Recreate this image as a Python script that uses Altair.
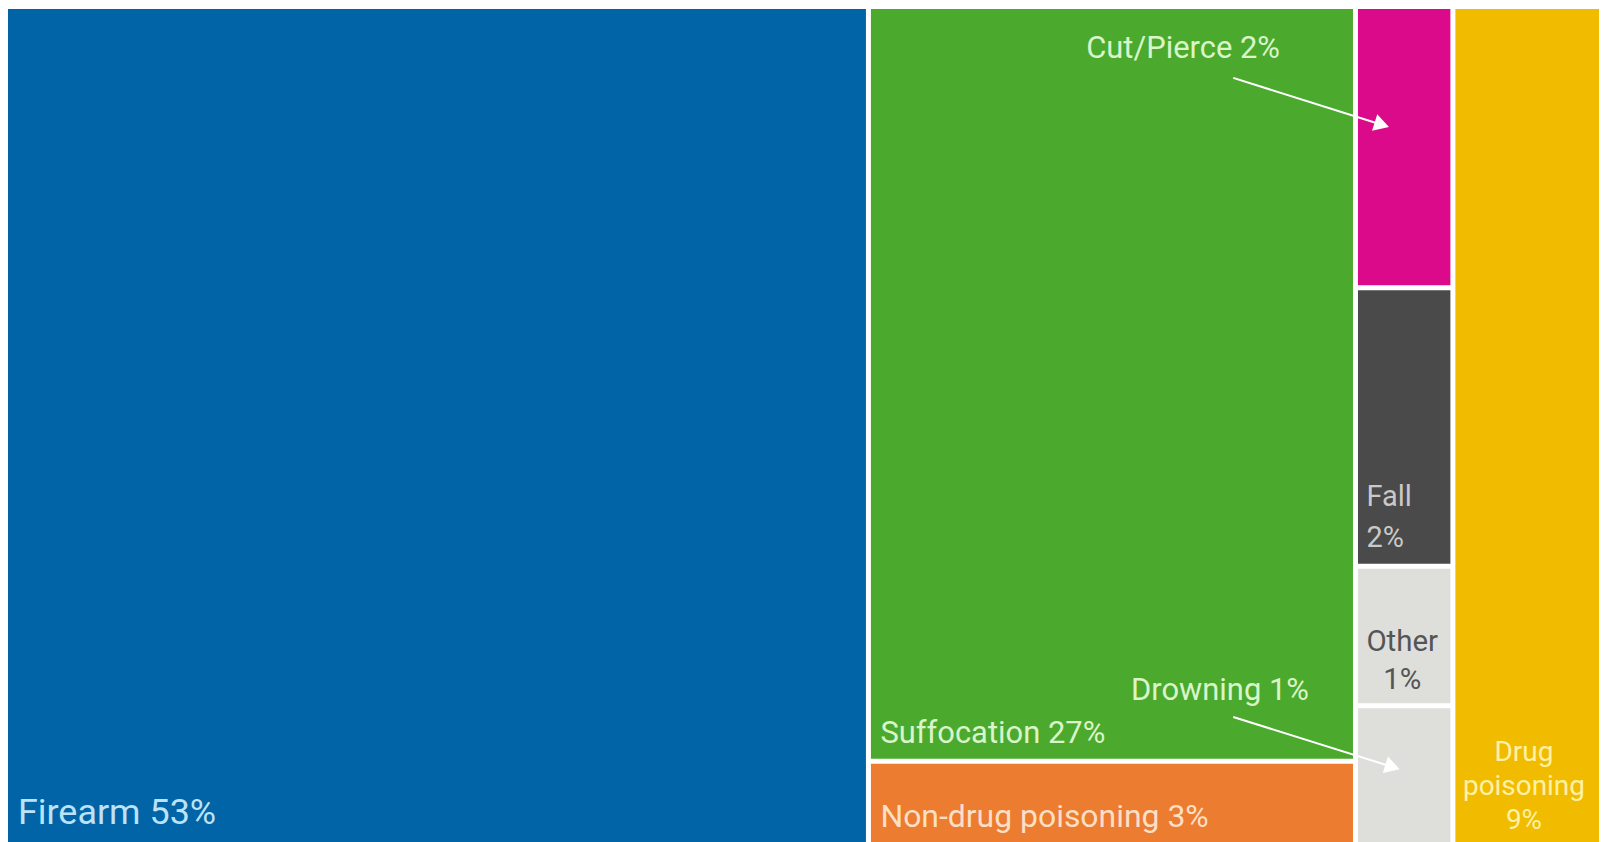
import math
import altair as alt
import pandas as pd

# ---- data -------------------------------------------------------------
categories = ["Firearm", "Suffocation", "Non-drug poisoning", "Cut/Pierce",
              "Fall", "Other", "Drowning", "Drug poisoning"]
percents = [53, 27, 3, 2, 2, 1, 1, 9]
column_of = [0, 1, 1, 2, 2, 2, 2, 3]
fill_colors = ["#0064A6", "#4BAA2E", "#EB7C30", "#DA0A8A",
               "#4A4A4A", "#DEDEDB", "#DEDEDB", "#F1BC00"]
label_texts = ["Firearm 53%", "Suffocation 27%", "Non-drug poisoning 3%",
               "Cut/Pierce 2%", "Fall\n2%", "Other\n1%", "Drowning 1%",
               "Drug\npoisoning\n9%"]
label_colors = ["#BCE2F7", "#D9F5C9", "#FDDFC6", "#D9F5C9",
                "#C9C9C9", "#555555", "#D9F5C9", "#FFF1A6"]

W, H = 1595, 838
GAP = 5  # white border width, px

# ---- treemap layout (slice columns, dice rows) --------------------------
total = sum(percents)
gx = GAP / W * total
gy = GAP / H
ncol = max(column_of) + 1
col_sum = [sum(p for p, c in zip(percents, column_of) if c == k) for k in range(ncol)]
col_x0 = [sum(col_sum[:k]) for k in range(ncol)]
rows = []
used = [0.0] * ncol
for cat, p, c, col in zip(categories, percents, column_of, fill_colors):
    y0 = used[c] / col_sum[c]
    used[c] += p
    y1 = used[c] / col_sum[c]
    x0, x1 = col_x0[c], col_x0[c] + col_sum[c]
    rows.append(dict(cat=cat, x0=x0, x1=x1, y0=y0, y1=y1, color=col,
                     vx0=x0 + (gx / 2 if x0 > 0 else 0),
                     vx1=x1 - (gx / 2 if x1 < total else 0),
                     vy0=y0 + (gy / 2 if y0 > 0 else 0),
                     vy1=y1 - (gy / 2 if y1 < 1 else 0)))
df = pd.DataFrame(rows)
R = {r["cat"]: r for r in rows}

xs = alt.Scale(domain=[0, total], nice=False, zero=False)
ys = alt.Scale(domain=[0, 1], nice=False, zero=False, reverse=True)

rects = alt.Chart(df).mark_rect().encode(
    x=alt.X("vx0:Q", scale=xs, axis=None),
    x2="vx1:Q",
    y=alt.Y("vy0:Q", scale=ys, axis=None),
    y2="vy1:Q",
    color=alt.Color("color:N", scale=None),
)


def pt(cat, fx, fy):
    r = R[cat]
    return r["x0"] + fx * (r["x1"] - r["x0"]), r["y0"] + fy * (r["y1"] - r["y0"])


def label(i, x, y, align, dx, dy, size, line_height=None):
    kw = dict(align=align, baseline="alphabetic", dx=dx, dy=dy, fontSize=size,
              font="Roboto", color=label_colors[i], lineBreak="\n")
    if line_height:
        kw["lineHeight"] = line_height
    d = pd.DataFrame({"x": [x], "y": [y], "t": [label_texts[i]]})
    return alt.Chart(d).mark_text(**kw).encode(
        x=alt.X("x:Q", scale=xs, axis=None),
        y=alt.Y("y:Q", scale=ys, axis=None),
        text="t:N",
    )


texts = [
    label(0, *pt("Firearm", 0, 1), "left", 10, -21, 36),
    label(1, *pt("Suffocation", 0, 1), "left", 12, -18, 31),
    label(2, *pt("Non-drug poisoning", 0, 1), "left", 12, -18, 32),
    label(3, *pt("Suffocation", 0.447, 0.065), "left", 0, 0, 31),
    label(4, *pt("Fall", 0, 1), "left", 11, -60, 29, 41),
    label(5, *pt("Other", 0.5, 0.5), "center", -2, 15, 29.5, 38),
    label(6, *pt("Suffocation", 0.539, 0.918), "left", 0, 0, 31),
    label(7, *pt("Drug poisoning", 0.5, 1), "center", -2, -84, 28, 34),
]

# ---- arrows -----------------------------------------------------------
arrow_specs = [
    (pt("Suffocation", 0.749, 0.0915), pt("Cut/Pierce", 0.27, 0.415)),
    (pt("Suffocation", 0.749, 0.941), pt("Drowning", 0.38, 0.44)),
]
arrow_rows = []
for (sx, sy), (ex_, ey_) in arrow_specs:
    ang = math.degrees(math.atan2((ey_ - sy) * H, (ex_ - sx) / total * W))
    arrow_rows.append(dict(x=sx, y=sy, x2=ex_, y2=ey_, ang=(ang + 360) % 360))
adf = pd.DataFrame(arrow_rows)

lines = alt.Chart(adf).mark_rule(color="white", strokeWidth=2).encode(
    x=alt.X("x:Q", scale=xs, axis=None),
    y=alt.Y("y:Q", scale=ys, axis=None),
    x2="x2:Q",
    y2="y2:Q",
)
heads = alt.Chart(adf).mark_point(shape="triangle-right", filled=True, color="white",
                                  opacity=1, size=300).encode(
    x=alt.X("x2:Q", scale=xs, axis=None),
    y=alt.Y("y2:Q", scale=ys, axis=None),
    angle=alt.Angle("ang:Q", scale=None),
)

chart = alt.layer(rects, *texts, lines, heads).properties(
    width=W, height=H, padding=0,
    autosize=alt.AutoSizeParams(type="none"),
).configure_view(stroke=None)

chart.save("out.html", embed_options={"renderer": "svg", "actions": False})
